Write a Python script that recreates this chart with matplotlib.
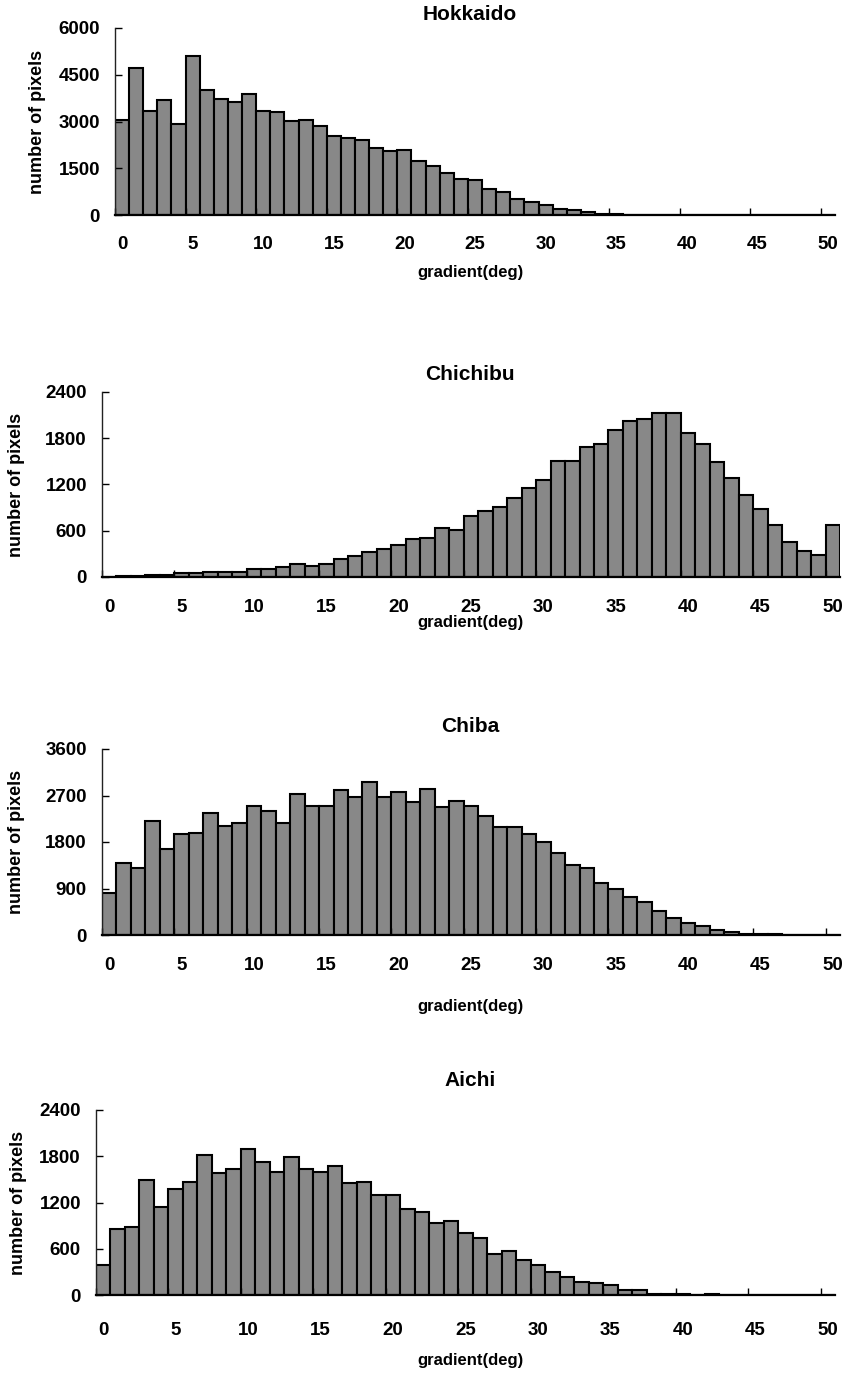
import matplotlib
matplotlib.use('Agg')
import matplotlib.pyplot as plt
import numpy as np

plt.rcParams['font.family'] = ['Liberation Sans', 'DejaVu Sans']
plt.rcParams['font.weight'] = 'bold'

# ---------------- data ----------------
gradient_deg = list(range(51))
x_tick_values = list(range(0, 51, 5))
x_tick_labels = [str(v) for v in x_tick_values]

titles = ['Hokkaido', 'Chichibu', 'Chiba', 'Aichi']

hokkaido = [3050, 4710, 3350, 3700, 2930, 5110, 4000, 3730, 3640, 3890,
            3330, 3320, 3020, 3050, 2840, 2520, 2460, 2410, 2160, 2040,
            2090, 1740, 1575, 1360, 1170, 1115, 835, 730, 525, 405,
            330, 205, 150, 95, 40, 20, 10, 0, 0, 0,
            0, 0, 0, 0, 0, 0, 0, 0, 0, 0, 0]
chichibu = [0, 10, 15, 30, 30, 50, 50, 70, 70, 70,
            100, 105, 130, 170, 140, 170, 230, 270, 330, 365,
            415, 490, 510, 630, 615, 795, 857, 913, 1030, 1157,
            1260, 1500, 1500, 1680, 1727, 1907, 2027, 2049, 2130, 2130,
            1864, 1723, 1491, 1286, 1059, 887, 677, 450, 343, 291, 677]
chiba = [806, 1400, 1303, 2212, 1658, 1954, 1980, 2354, 2109, 2161,
         2496, 2405, 2161, 2728, 2496, 2496, 2806, 2676, 2961, 2676,
         2761, 2580, 2825, 2483, 2599, 2502, 2309, 2083, 2083, 1948,
         1800, 1580, 1355, 1290, 1013, 884, 742, 632, 471, 322,
         230, 170, 100, 50, 25, 20, 10, 8, 6, 5, 5]
aichi = [394, 857, 887, 1487, 1136, 1380, 1466, 1813, 1586, 1641,
         1894, 1723, 1599, 1787, 1637, 1594, 1680, 1457, 1466, 1299,
         1294, 1114, 1071, 930, 960, 801, 737, 531, 574, 459,
         386, 300, 236, 167, 150, 129, 60, 69, 15, 10,
         8, 0, 8, 0, 0, 0, 0, 0, 0, 0, 0]

y_ticks_hokkaido = [0, 1500, 3000, 4500, 6000]
y_ticks_chichibu = [0, 600, 1200, 1800, 2400]
y_ticks_chiba = [0, 900, 1800, 2700, 3600]
y_ticks_aichi = [0, 600, 1200, 1800, 2400]

series = [hokkaido, chichibu, chiba, aichi]
yticks = [y_ticks_hokkaido, y_ticks_chichibu, y_ticks_chiba, y_ticks_aichi]

# ---------------- layout (pixels) ----------------
W, H = 849, 1373
layout = [
    dict(l=115, r=835, t=28, b=215, title_y=15, ylab_x=38, xpad=21, xlab_y=272),
    dict(l=102, r=840, t=392, b=577, title_y=374, ylab_x=17, xpad=22, xlab_y=622),
    dict(l=102, r=840, t=749, b=935, title_y=726, ylab_x=17, xpad=22, xlab_y=1007),
    dict(l=96, r=835, t=1110, b=1295, title_y=1080, ylab_x=19, xpad=27, xlab_y=1360),
]
PX = 0.72  # points per pixel at dpi 100

fig = plt.figure(figsize=(W / 100, H / 100), dpi=100)

for vals, yt, title, L in zip(series, yticks, titles, layout):
    ax = fig.add_axes([L['l'] / W, 1 - L['b'] / H, (L['r'] - L['l']) / W, (L['b'] - L['t']) / H])
    ax.bar(gradient_deg, vals, width=1.0, color='#888888', edgecolor='black',
           linewidth=1.5, align='center')
    ax.set_xlim(-0.5, 50.5)
    ax.set_ylim(0, yt[-1])
    ax.set_yticks(yt)
    ax.set_yticklabels([str(v) for v in yt])
    ax.set_xticks(x_tick_values)
    ax.set_xticklabels(x_tick_labels)
    ax.set_xticks(np.arange(-0.5, 50, 5), minor=True)
    ax.tick_params(axis='x', which='major', length=0, pad=L['xpad'] * PX, labelsize=13.5)
    ax.tick_params(axis='x', which='minor', direction='in', length=5, width=1)
    ax.tick_params(axis='y', which='major', direction='in', length=5, width=1,
                   pad=15 * PX, labelsize=13.5)
    for s in ('top', 'right'):
        ax.spines[s].set_visible(False)
    ax.spines['left'].set_linewidth(1.0)
    ax.spines['left'].set_color('#222222')
    ax.spines['bottom'].set_linewidth(1.6)
    ax.set_facecolor('none')

    fig.text(470 / W, 1 - L['title_y'] / H, title, ha='center', va='center',
             fontsize=15, fontweight='bold')
    fig.text(L['ylab_x'] / W, 1 - ((L['t'] + L['b']) / 2) / H, 'number of pixels',
             ha='center', va='center', rotation=90, fontsize=13, fontweight='bold')
    fig.text(470 / W, 1 - L['xlab_y'] / H, 'gradient(deg)', ha='center', va='center',
             fontsize=12, fontweight='bold')

fig.savefig('out.png', dpi=100, facecolor='white')
